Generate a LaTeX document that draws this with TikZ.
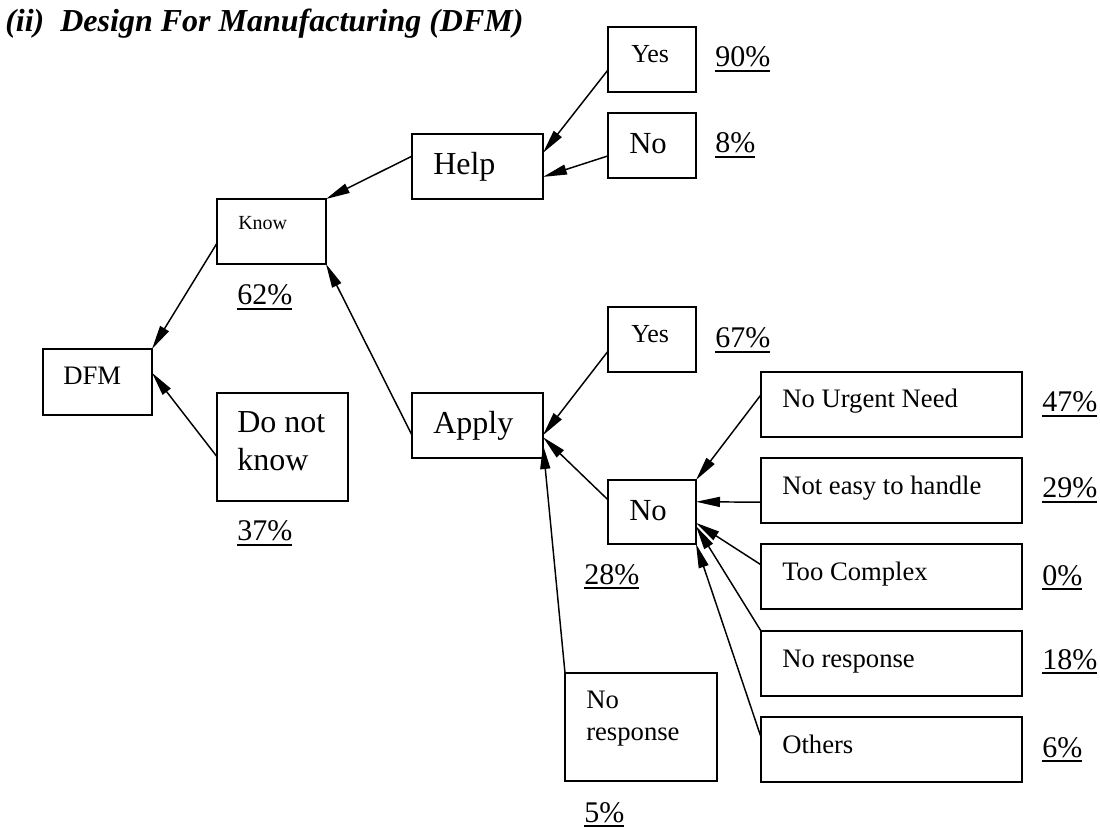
\documentclass[tikz,border=0pt]{standalone}
\usepackage{fontspec}
\setmainfont{Liberation Serif}
\usetikzlibrary{calc,arrows.meta}
% underlined percentage figure
\newcommand\pct[1]{\setbox0\hbox{#1}\rlap{\vrule width\wd0 height-2.4pt depth3.5pt}\box0}
% box with top-left corner (x,y), width, height in px-units
\newcommand\mkbox[5]{\node[box,minimum width=#4*0.75pt,minimum height=#5*0.75pt] (#1) at (#2,#3) {};}
\begin{document}
\begin{tikzpicture}[x=0.75pt,y=-0.75pt,
  box/.style={draw,line width=1.4pt,anchor=north west,inner sep=0pt,outer sep=0pt},
  conn/.style={line width=1.1pt,-{Triangle[length=18pt,width=7.5pt]}},
  txt/.style={anchor=base west,inner sep=0pt},
  big/.style={txt,font=\fontsize{24}{28}\selectfont},
  mid/.style={txt,font=\fontsize{20}{24}\selectfont},
  pcnt/.style={txt,font=\fontsize{22.5}{26}\selectfont}]
\useasboundingbox (0,0) rectangle (1100,830);

% heading
\node[txt,font=\fontsize{24}{28}\selectfont\bfseries\itshape] (title) at (5,32) {(ii)\hspace{0.5em}Design For Manufacturing (DFM)};

% boxes
\mkbox{dfm}{43}{349}{109}{66}
\mkbox{know}{217}{199}{109}{65}
\mkbox{dnk}{217}{393}{131}{108}
\mkbox{help}{412}{134}{131}{65}
\mkbox{apply}{412}{393}{131}{65}
\mkbox{yesa}{608}{27}{88}{65}
\mkbox{noa}{608}{113}{88}{65}
\mkbox{yesb}{608}{307}{88}{65}
\mkbox{nob}{608}{480}{88}{64}
\mkbox{nresp}{565}{673}{152}{108}
\mkbox{urgent}{761}{372}{261}{65}
\mkbox{easy}{761}{458}{261}{65}
\mkbox{complex}{761}{544}{261}{65}
\mkbox{noresp}{761}{631}{261}{65}
\mkbox{others}{761}{717}{261}{65}

% box texts
\node[mid] (tdfm) at (63,385) {DFM};
\node[txt,font=\fontsize{15}{18}\selectfont] (tknow) at (238,230) {Know};
\node[big] (tdnka) at (237,433) {Do not};
\node[big] (tdnkb) at (237,470) {know};
\node[big] (thelp) at (433,175) {Help};
\node[big] (tapply) at (433,434) {Apply};
\node[txt,font=\fontsize{19.5}{23}\selectfont] (tyesa) at (631,63) {Yes};
\node[txt,font=\fontsize{23}{27}\selectfont] (tnoa) at (629,154) {No};
\node[txt,font=\fontsize{19.5}{23}\selectfont] (tyesb) at (631,343) {Yes};
\node[txt,font=\fontsize{23}{27}\selectfont] (tnob) at (629,520) {No};
\node[mid] (tnrespa) at (586,708) {No};
\node[mid] (tnrespb) at (586,740) {response};
\node[mid] (turgent) at (782,408) {No Urgent Need};
\node[mid] (teasy) at (782,494) {Not easy to handle};
\node[mid] (tcomplex) at (782,580) {Too Complex};
\node[mid] (tnoresp) at (782,667) {No response};
\node[mid] (tothers) at (782,753) {Others};

% percentages
\node[pcnt] (p62) at (237,305) {\pct{62\%}};
\node[pcnt] (p37) at (237,541) {\pct{37\%}};
\node[pcnt] (p90) at (715,67) {\pct{90\%}};
\node[pcnt] (p8) at (715,153) {\pct{8\%}};
\node[pcnt] (p67) at (715,348) {\pct{67\%}};
\node[pcnt] (p28) at (584,584) {\pct{28\%}};
\node[pcnt] (p5) at (584,822) {\pct{5\%}};
\node[pcnt] (p47) at (1042,412) {\pct{47\%}};
\node[pcnt] (p29) at (1042,498) {\pct{29\%}};
\node[pcnt] (p0) at (1042,585) {\pct{0\%}};
\node[pcnt] (p18) at (1042,669) {\pct{18\%}};
\node[pcnt] (p6) at (1042,757) {\pct{6\%}};

% connectors, each pointing back to its parent
\draw[conn] ($(know.north west)!0.68!(know.south west)$) -- (dfm.north east);
\draw[conn] ($(dnk.north west)!0.59!(dnk.south west)$) -- ($(dfm.north east)!0.36!(dfm.south east)$);
\draw[conn] ($(help.north west)!0.34!(help.south west)$) -- (know.north east);
\draw[conn] ($(apply.north west)!0.65!(apply.south west)$) -- (know.south east);
\draw[conn] ($(yesa.north west)!0.66!(yesa.south west)$) -- ($(help.north east)!0.29!(help.south east)$);
\draw[conn] ($(noa.north west)!0.66!(noa.south west)$) -- ($(help.north east)!0.66!(help.south east)$);
\draw[conn] ($(yesb.north west)!0.68!(yesb.south west)$) -- ($(apply.north east)!0.65!(apply.south east)$);
\draw[conn] ($(nob.north west)!0.31!(nob.south west)$) -- ($(apply.north east)!0.68!(apply.south east)$);
\draw[conn] (nresp.north west) -- ($(apply.north east)!0.80!(apply.south east)$);
\draw[conn] ($(urgent.north west)!0.35!(urgent.south west)$) -- (nob.north east);
\draw[conn] ($(easy.north west)!0.68!(easy.south west)$) -- ($(nob.north east)!0.34!(nob.south east)$);
\draw[conn] ($(complex.north west)!0.32!(complex.south west)$) -- ($(nob.north east)!0.67!(nob.south east)$);
\draw[conn] (noresp.north west) -- ($(nob.north east)!0.72!(nob.south east)$);
\draw[conn] ($(others.north west)!0.31!(others.south west)$) -- (nob.south east);
\end{tikzpicture}
\end{document}
